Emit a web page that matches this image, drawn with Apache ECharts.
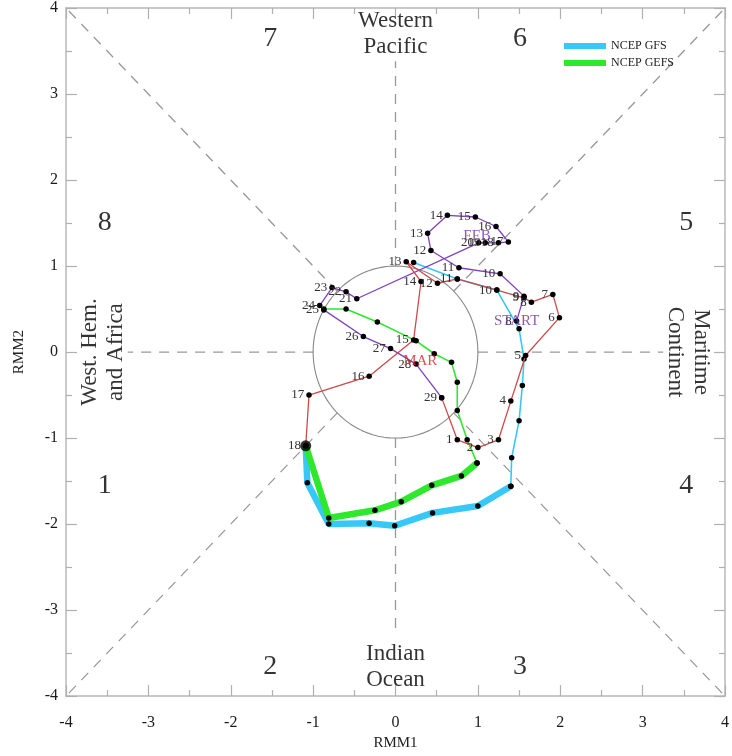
<!DOCTYPE html>
<html><head><meta charset="utf-8">
<script src="https://cdn.jsdelivr.net/npm/echarts@6/dist/echarts.min.js"></script>
<style>html,body{margin:0;padding:0;background:#fff}#c{width:732px;height:756px}</style>
</head><body><div id="c"></div>
<script>
// Observed RMM index, February (purple) and March (red)
const febDays = [8,9,10,11,12,13,14,15,16,17,18,19,20,21,22,23,24,25,26,27,28,29];
const febX = [1.47,1.56,1.27,0.77,0.43,0.39,0.63,0.97,1.22,1.37,1.25,1.09,1.01,-0.47,-0.60,-0.77,-0.92,-0.87,-0.39,-0.06,0.25,0.56];
const febY = [0.36,0.65,0.91,0.98,1.18,1.38,1.59,1.57,1.46,1.28,1.27,1.27,1.27,0.62,0.70,0.75,0.54,0.49,0.18,0.04,-0.14,-0.53];
const marDays = [1,2,3,4,5,6,7,8,9,10,11,12,13,14,15,16,17,18];
const marX = [0.75,1.00,1.25,1.40,1.58,1.99,1.91,1.65,1.56,1.23,0.75,0.51,0.13,0.31,0.22,-0.32,-1.05,-1.09];
const marY = [-1.02,-1.11,-1.02,-0.57,-0.04,0.40,0.67,0.58,0.63,0.72,0.85,0.80,1.05,0.82,0.14,-0.28,-0.50,-1.09];
// NCEP GFS forecast (starts at last observation)
const gfsX = [-1.09,-1.07,-0.81,-0.32,-0.01,0.45,1.00,1.40,1.41,1.50,1.54,1.56,1.50,1.23,0.75,0.22];
const gfsY = [-1.09,-1.52,-2.00,-1.99,-2.02,-1.87,-1.79,-1.56,-1.23,-0.80,-0.39,-0.08,0.27,0.72,0.85,1.04];
// NCEP GEFS forecast
const gefsX = [-1.09,-0.81,-0.25,0.07,0.44,0.80,0.99,0.87,0.75,0.75,0.68,0.47,0.25,-0.22,-0.60,-0.87];
const gefsY = [-1.09,-1.93,-1.84,-1.74,-1.55,-1.44,-1.29,-1.02,-0.68,-0.35,-0.12,-0.02,0.13,0.35,0.50,0.50];
const gfsWeek1 = 8;   // points in first week (thick)
const gefsWeek1 = 7;
const phaseNames = ['1','2','3','4','5','6','7','8'];
const axisTicks = [-4,-3,-2,-1,0,1,2,3,4];

const SERIF = '"Liberation Serif","DejaVu Serif",serif';
const GFS_C = '#38c8f8', GEFS_C = '#2ee82e';
const zip = (xs, ys, extra) => xs.map((x, i) => extra ? [x, ys[i], extra[i]] : [x, ys[i]]);

// unit circle (reference geometry)
const circle = [];
for (let i = 0; i <= 180; i++) { const a = i / 180 * 2 * Math.PI; circle.push([Math.cos(a), Math.sin(a)]); }
const r2 = Math.SQRT1_2;
const guides = [
  [[1,0],[3.25,0]], [[-1,0],[-3.25,0]], [[0,1],[0,3.38]], [[0,-1],[0,-3.3]],
  [[r2,r2],[4,4]], [[-r2,r2],[-4,4]], [[r2,-r2],[4,-4]], [[-r2,-r2],[-4,-4]]
];

const gfs = zip(gfsX, gfsY), gefs = zip(gefsX, gefsY);
const feb = zip(febX, febY, febDays), mar = zip(marX, marY, marDays);
const marLine = [feb[feb.length - 1]].concat(mar);
const last = mar[mar.length - 1];

const baseAxis = (pos, showLabel, margin) => ({
  type: 'value', min: -4, max: 4, interval: 1, position: pos,
  axisLine: { show: true, onZero: false, lineStyle: { color: '#b8b8b8', width: 1.5 } },
  axisTick: { show: true, inside: true, length: 11, lineStyle: { color: '#b0b0b0', width: 1.2 } },
  minorTick: { show: true, splitNumber: 2, length: 6, lineStyle: { color: '#b0b0b0', width: 1.2 } },
  splitLine: { show: false },
  axisLabel: { show: showLabel, fontFamily: SERIF, fontSize: 16, color: '#1a1a1a', margin: margin || 10,
               formatter: v => axisTicks.includes(v) ? String(v) : '' }
});

const series = [];
guides.forEach(g => series.push({ type: 'line', data: g, symbol: 'none', silent: true, z: 1,
  lineStyle: { color: '#999', width: 1.3, type: [10, 8] } }));
series.push({ type: 'line', data: circle, symbol: 'none', silent: true, z: 1, smooth: false,
  lineStyle: { color: '#888', width: 1.1 } });

const dot = { symbol: 'circle', symbolSize: 5.5, itemStyle: { color: '#000' }, showAllSymbol: true };
// forecasts
series.push(Object.assign({ name: 'NCEP GFS', type: 'line', data: gfs.slice(gfsWeek1 - 1), z: 3,
  lineStyle: { color: GFS_C, width: 1.6 } }, dot));
series.push(Object.assign({ name: 'NCEP GFS', type: 'line', data: gfs.slice(0, gfsWeek1), z: 3,
  lineStyle: { color: GFS_C, width: 6.5 } }, dot));
series.push(Object.assign({ name: 'NCEP GEFS', type: 'line', data: gefs.slice(gefsWeek1 - 1), z: 3,
  lineStyle: { color: GEFS_C, width: 1.6 } }, dot));
series.push(Object.assign({ name: 'NCEP GEFS', type: 'line', data: gefs.slice(0, gefsWeek1), z: 3,
  lineStyle: { color: GEFS_C, width: 6.5 } }, dot));
// observed
const dayLabel = { show: true, position: 'left', distance: 2, formatter: p => p.value[2] === undefined ? '' : String(p.value[2]),
  fontFamily: SERIF, fontSize: 13, color: '#333' };
series.push(Object.assign({ type: 'line', data: feb, z: 4, lineStyle: { color: '#8040c0', width: 1.3 },
  label: dayLabel }, dot));
series.push(Object.assign({ type: 'line', data: marLine, z: 4, lineStyle: { color: '#d04848', width: 1.3 },
  label: Object.assign({}, dayLabel, { formatter: p => p.dataIndex === 0 ? '' : String(p.value[2]) }) }, dot));
series.push({ type: 'scatter', data: [last], symbolSize: 11, itemStyle: { color: '#000' }, z: 6 });

// text annotations positioned in RMM space
const txt = (data, size, color, rotate, lh) => ({ type: 'scatter', symbol: 'circle', symbolSize: 1, silent: true, z: 5, data,
  itemStyle: { color: 'rgba(0,0,0,0)' },
  label: { show: true, position: 'inside', formatter: p => p.value[2], fontFamily: SERIF, fontSize: size,
           color, rotate: rotate || 0, lineHeight: lh || size, align: 'center', verticalAlign: 'middle' } });
series.push(txt([[-3.53,-1.55,phaseNames[0]],[-1.52,-3.66,phaseNames[1]],[1.51,-3.66,phaseNames[2]],[3.53,-1.55,phaseNames[3]],
                 [3.53,1.51,phaseNames[4]],[1.51,3.64,phaseNames[5]],[-1.52,3.64,phaseNames[6]],[-3.53,1.51,phaseNames[7]]], 28, '#000'));
series.push(txt([[0,3.70,'Western\nPacific'],[0,-3.66,'Indian\nOcean']], 23, '#000', 0, 26));
series.push(txt([[-3.55,0.0,'West. Hem.\nand Africa']], 23, '#000', 90, 26));
series.push(txt([[3.55,0.0,'Maritime\nContinent']], 23, '#000', -90, 26));
series.push(txt([[1.47,0.36,'START'],[0.99,1.35,'FEB']], 15, '#7030a0'));
series.push(txt([[0.30,-0.11,'MAR']], 15, '#cc2a2a'));

const chart = echarts.init(document.getElementById('c'), null, { renderer: 'canvas' });
chart.setOption({
  animation: false,
  backgroundColor: '#fff',
  grid: { left: 66, right: 4, top: 5, bottom: 40 },
  legend: { data: [{ name: 'NCEP GFS', itemStyle: { color: GFS_C } }, { name: 'NCEP GEFS', itemStyle: { color: GEFS_C } }],
            orient: 'vertical', left: 559, top: 35, itemWidth: 42, itemHeight: 6,
            itemGap: 5, icon: 'rect', textStyle: { fontFamily: SERIF, fontSize: 12, color: '#222' }, selectedMode: false },
  xAxis: [Object.assign(baseAxis('bottom', true, 19), { name: 'RMM1', nameLocation: 'middle', nameGap: 35,
            nameTextStyle: { fontFamily: SERIF, fontSize: 15, color: '#222' } }), baseAxis('top', false)],
  yAxis: [Object.assign(baseAxis('left', true, 8), { name: 'RMM2', nameLocation: 'middle', nameGap: 39,
            nameTextStyle: { fontFamily: SERIF, fontSize: 15, color: '#222' } }), baseAxis('right', false)],
  series
});
</script></body></html>
